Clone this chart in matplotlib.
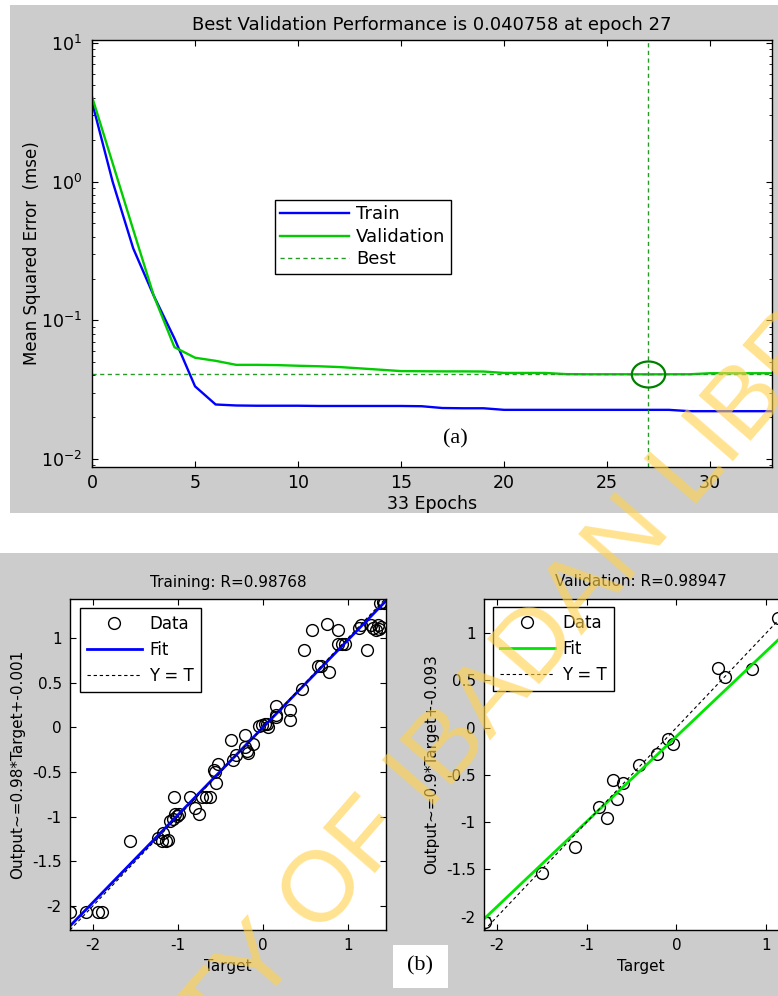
import numpy as np
import matplotlib
matplotlib.use('Agg')
import matplotlib.pyplot as plt
from matplotlib.patches import Rectangle
from matplotlib.path import Path
from matplotlib.transforms import Affine2D
from matplotlib.ticker import LogLocator, NullFormatter, FixedLocator

plt.rcParams['font.family'] = ['DejaVu Sans']
plt.rcParams['axes.unicode_minus'] = False
plt.rcParams['font.size'] = 11

W, H = 778, 996

# (a) performance curves
epochs = np.arange(34)
train_mse = [3.75, 1.0, 0.33, 0.15, 0.074, 0.0334, 0.0247, 0.0243, 0.0242, 0.0242,
             0.0242, 0.0241, 0.0241, 0.0241, 0.0241, 0.0241, 0.0240, 0.0233, 0.0232, 0.0232,
             0.0226, 0.0226, 0.0226, 0.0226, 0.0226, 0.0226, 0.0226, 0.0226, 0.0226, 0.0221,
             0.0221, 0.0221, 0.0221, 0.0221]
val_mse = [4.1, 1.36, 0.45, 0.15, 0.064, 0.0537, 0.0510, 0.0477, 0.0477, 0.0475,
           0.0470, 0.0466, 0.0460, 0.0450, 0.0440, 0.0430, 0.0429, 0.0428, 0.0428, 0.0427,
           0.0417, 0.0417, 0.0417, 0.0409, 0.0408, 0.0408, 0.0408, 0.040758, 0.0408, 0.0408,
           0.0415, 0.0415, 0.0415, 0.0415]
best_epoch = 27
best_perf = 0.040758

# (b) regression: training
train_target = [1.38, 1.41, 1.43, 0.75, 0.58, 0.89, 1.16, 1.13, 1.27, 1.30, 1.33, 1.35, 1.37, 1.39,
                0.88, 0.93, 0.97, 1.23, 0.48, 0.65, 0.69, 0.78, 0.46, 0.16, 0.32, 0.32, 0.16, 0.15,
                0.05, -0.04, -0.01, 0.02, 0.06, -0.21, -0.38, -0.11, -0.21, -0.19, -0.17, -0.31, -0.35,
                -0.53, -0.58, -0.55, -0.56, -1.04, -0.86, -0.72, -0.67, -0.62, -0.80, -0.75,
                -1.03, -1.01, -0.99, -1.09, -1.06, -1.17, -1.23, -1.19, -1.14, -1.12, -1.56,
                -2.27, -2.08, -1.94, -1.89]
train_output = [1.40, 1.41, 1.40, 1.16, 1.09, 1.09, 1.15, 1.12, 1.15, 1.12, 1.09, 1.15, 1.10, 1.13,
                0.94, 0.94, 0.94, 0.87, 0.87, 0.69, 0.69, 0.62, 0.43, 0.24, 0.20, 0.08, 0.12, 0.14,
                0.04, 0.02, 0.03, 0.04, 0.01, -0.08, -0.14, -0.18, -0.22, -0.26, -0.29, -0.31, -0.36,
                -0.41, -0.48, -0.62, -0.50, -0.78, -0.78, -0.78, -0.78, -0.78, -0.90, -0.97,
                -0.97, -0.99, -0.97, -1.05, -1.03, -1.18, -1.24, -1.27, -1.27, -1.26, -1.27,
                -2.07, -2.07, -2.07, -2.07]
train_fit = (0.98, -0.001)
train_R = 0.98768

# (b) regression: validation
val_target = [1.13, 0.46, 0.54, 0.84, -0.09, -0.04, -0.22, -0.42, -0.71, -0.60, -0.66,
              -0.86, -0.77, -1.13, -1.50, -2.13]
val_output = [1.16, 0.63, 0.53, 0.62, -0.12, -0.17, -0.28, -0.40, -0.55, -0.59, -0.76,
              -0.84, -0.96, -1.26, -1.54, -2.06]
val_fit = (0.9, -0.093)
val_R = 0.98947


def px_rect(l, t, r, b):
    return [l / W, 1 - b / H, (r - l) / W, (b - t) / H]


def fig_pt(x, y):
    return (x / W, 1 - y / H)


fig = plt.figure(figsize=(W / 100, H / 100), dpi=100)
fig.patch.set_facecolor('white')

# gray panels, behind the axes
gray = '#cccccc'
fig.patches.append(Rectangle(fig_pt(10, 513), 768 / W, 508 / H, transform=fig.transFigure,
                             facecolor=gray, edgecolor='none', zorder=-5))
fig.patches.append(Rectangle(fig_pt(0, 996), 1, 443 / H, transform=fig.transFigure,
                             facecolor=gray, edgecolor='none', zorder=-5))


def style_axes(ax, fs):
    ax.set_facecolor('white')
    ax.tick_params(direction='in', top=True, right=True, which='both', length=4, pad=6,
                   labelsize=fs)
    ax.tick_params(which='minor', length=2.5)
    for s in ax.spines.values():
        s.set_linewidth(1.0)


# ---- (a) performance plot ----
ax = fig.add_axes(px_rect(92, 40, 772, 467))
style_axes(ax, 12.5)
ax.semilogy(epochs, train_mse, color=(0, 0, 1), lw=1.7, label='Train')
ax.semilogy(epochs, val_mse, color=(0, 0.8, 0), lw=1.7, label='Validation')
ax.axhline(best_perf, color=(0.15, 0.6, 0.15), lw=1.0, dashes=(3, 2.5), label='Best')
ax.axvline(best_epoch, color=(0.15, 0.6, 0.15), lw=1.0, dashes=(3, 2.5))
ellipse = Path.unit_circle().transformed(Affine2D().scale(1.0, 0.78))
ax.plot([best_epoch], [best_perf], linestyle='none', marker=ellipse, markersize=24,
        markerfacecolor='none', markeredgecolor=(0, 0.5, 0), markeredgewidth=1.6)
ax.set_xlim(0, 33)
ax.set_ylim(10 ** -2.058, 10 ** 1.021)
ax.xaxis.set_major_locator(FixedLocator([0, 5, 10, 15, 20, 25, 30]))
ax.yaxis.set_major_locator(LogLocator(base=10, numticks=10))
ax.yaxis.set_minor_locator(LogLocator(base=10, subs=np.arange(2, 10), numticks=10))
ax.yaxis.set_minor_formatter(NullFormatter())
ax.tick_params(axis='y', pad=7)
ax.tick_params(axis='x', pad=5)
ax.set_title('Best Validation Performance is %.6f at epoch %d' % (best_perf, best_epoch),
             fontsize=13, pad=7)
ax.set_xlabel('%d Epochs' % epochs[-1], fontsize=12.5, labelpad=2)
ax.set_ylabel('Mean Squared Error  (mse)', fontsize=12, labelpad=0)
ax.legend(loc='upper left', bbox_to_anchor=fig_pt(275, 200), bbox_transform=fig.transFigure,
          borderaxespad=0, fancybox=False, edgecolor='black', framealpha=1,
          handlelength=3.8, handletextpad=0.4, labelspacing=0.25, borderpad=0.3, fontsize=13)
leg = ax.get_legend()
leg.get_frame().set_linewidth(1.0)
fig.text(*fig_pt(455, 439), '(a)', family='Liberation Serif', fontsize=16,
         ha='center', va='center')


# ---- (b) regression plots ----
def regression(rect, target, output, fit, R, name, color, lim_x, lim_y, legend_at, ylab):
    axr = fig.add_axes(px_rect(*rect))
    style_axes(axr, 11)
    xs = np.array(lim_x)
    axr.plot(target, output, linestyle='none', marker='o', markersize=8.5,
             markerfacecolor='none', markeredgecolor='black', markeredgewidth=1.0, label='Data')
    axr.plot(xs, fit[0] * xs + fit[1], color=color, lw=2.0, label='Fit')
    axr.plot(xs, xs, color='black', lw=0.8, dashes=(3, 2.5), label='Y = T')
    axr.set_xlim(*lim_x)
    axr.set_ylim(*lim_y)
    axr.set_xticks([-2, -1, 0, 1])
    axr.set_yticks([-2, -1.5, -1, -0.5, 0, 0.5, 1])
    axr.set_yticklabels(['-2', '-1.5', '-1', '-0.5', '0', '0.5', '1'])
    axr.set_title('%s: R=%.5f' % (name, R), fontsize=11, pad=9)
    axr.set_xlabel('Target', fontsize=11, labelpad=4)
    axr.set_ylabel(ylab, fontsize=11, labelpad=5)
    lg = axr.legend(loc='upper left', bbox_to_anchor=fig_pt(*legend_at),
                    bbox_transform=fig.transFigure, borderaxespad=0, fancybox=False,
                    edgecolor='black', framealpha=1, numpoints=1, handlelength=3.3,
                    handletextpad=0.45, labelspacing=0.5, borderpad=0.4, fontsize=12)
    lg.get_frame().set_linewidth(1.0)
    return axr


regression((70, 599, 386, 930), train_target, train_output, train_fit, train_R, 'Training',
           (0, 0, 1), (-2.27, 1.45), (-2.27, 1.44), (80, 608),
           'Output~=0.98*Target+-0.001')
regression((484, 599, 798, 930), val_target, val_output, val_fit, val_R, 'Validation',
           (0, 0.9, 0), (-2.145, 1.355), (-2.14, 1.36), (493, 607),
           'Output~=0.9*Target+-0.093')

# (b) label with white box
fig.patches.append(Rectangle(fig_pt(393, 988), 55 / W, 43 / H, transform=fig.transFigure,
                             facecolor='white', edgecolor='none', zorder=1))
fig.text(*fig_pt(420, 966), '(b)', family='Liberation Serif', fontsize=16,
         ha='center', va='center', zorder=2)

# watermark
fig.text(*fig_pt(420, 782), 'UNIVERSITY OF IBADAN LIBRARY', family='Liberation Sans',
         fontsize=72, color='#ffd24d', alpha=0.62, rotation=49, rotation_mode='anchor',
         ha='center', va='center', zorder=10)

fig.savefig('out.png', dpi=100)
